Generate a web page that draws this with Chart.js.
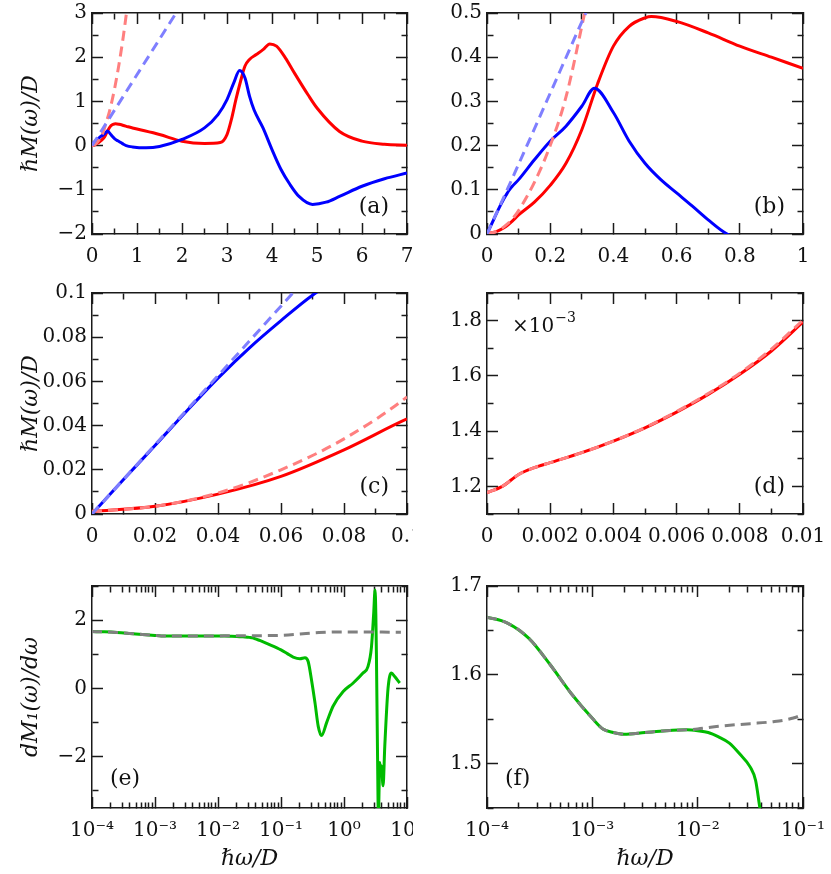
<!DOCTYPE html>
<html>
<head>
<meta charset="utf-8">
<script src="https://cdn.jsdelivr.net/npm/chart.js"></script>
<style>
  body { margin: 0; background: #fff; }
  #wrap { position: relative; width: 831px; height: 874px; overflow: hidden; }
  canvas { position: absolute; }
</style>
</head>
<body>
<div id="wrap">
  <canvas id="pa" width="413" height="280" style="left:0;top:0"></canvas>
  <canvas id="pb" width="418" height="280" style="left:413px;top:0"></canvas>
  <canvas id="pc" width="413" height="280" style="left:0;top:280px"></canvas>
  <canvas id="pd" width="418" height="280" style="left:413px;top:280px"></canvas>
  <canvas id="pe" width="413" height="314" style="left:0;top:560px"></canvas>
  <canvas id="pf" width="418" height="314" style="left:413px;top:560px"></canvas>
</div>
<script>
// ---- data ----
// red / blue curves, shared by panels (a), (b), (c)
const redX = [0, 0.02, 0.04, 0.06, 0.08, 0.1, 0.15, 0.2, 0.25, 0.3, 0.35, 0.4, 0.45, 0.5, 0.52, 0.6, 0.7, 0.8, 0.9, 1.0,
  1.5, 2, 2.5, 2.85, 3, 3.1, 3.2, 3.3, 3.4, 3.5, 3.65, 3.8, 3.95, 4.1, 4.3, 4.5, 4.8, 5, 5.5, 6, 6.5, 7];
const redY = [0.0012, 0.0035, 0.009, 0.017, 0.029, 0.043, 0.072, 0.11, 0.16, 0.236, 0.34, 0.425, 0.47, 0.489, 0.492, 0.481, 0.455, 0.425, 0.40, 0.375,
  0.25, 0.1, 0.05, 0.07, 0.25, 0.6, 1.05, 1.45, 1.8, 1.95, 2.06, 2.17, 2.3, 2.25, 1.98, 1.64, 1.15, 0.85, 0.32, 0.1, 0.03, 0.01];
const redDashX = [0, 0.02, 0.04, 0.06, 0.08, 0.1, 0.15, 0.2, 0.25, 0.3, 0.4, 0.5, 0.6, 0.7, 0.8];
const redDashY = [0.0012, 0.0035, 0.0095, 0.02, 0.034, 0.053, 0.117, 0.2, 0.31, 0.47, 0.82, 1.28, 1.84, 2.5, 3.27];
const blueX = [0, 0.01, 0.02, 0.03, 0.04, 0.05, 0.06, 0.07, 0.08, 0.1, 0.15, 0.2, 0.25, 0.3, 0.34, 0.4, 0.45, 0.5, 0.55, 0.6, 0.65, 0.7, 0.76,
  0.9, 1.2, 1.5, 2, 2.5, 2.8, 3, 3.15, 3.28, 3.4, 3.5, 3.6, 3.8, 4, 4.2, 4.4, 4.6, 4.9, 5.2, 5.5, 6, 6.5, 7];
const blueY = [0, 0.0156, 0.031, 0.0465, 0.0615, 0.0752, 0.0875, 0.099, 0.108, 0.123, 0.168, 0.21, 0.244, 0.289, 0.33, 0.275, 0.21, 0.16, 0.123, 0.093, 0.063, 0.032, 0,
  -0.03, -0.05, -0.02, 0.14, 0.4, 0.7, 1.04, 1.42, 1.7, 1.53, 1.12, 0.81, 0.4, -0.09, -0.54, -0.88, -1.15, -1.33, -1.28, -1.15, -0.92, -0.75, -0.62];
const blueDashX = [0, 0.065, 0.32, 1.9];
const blueDashY = [0, 0.102, 0.512, 3.05];

// panel (d), y in units of 1e-3
const dX = [0, 0.0005, 0.001, 0.0015, 0.002, 0.003, 0.004, 0.005, 0.006, 0.007, 0.008, 0.009, 0.01];
const dRedY = [1.177, 1.201, 1.243, 1.268, 1.286, 1.322, 1.364, 1.412, 1.469, 1.533, 1.606, 1.69, 1.795];
const dRedDashY = [1.177, 1.201, 1.243, 1.268, 1.286, 1.322, 1.364, 1.413, 1.471, 1.536, 1.61, 1.697, 1.802];

// panels (e), (f): dM1/dw
const greenX = [1e-4, 1.58e-4, 2.5e-4, 4e-4, 6.3e-4, 1e-3, 1.26e-3, 1.58e-3, 2e-3, 3.16e-3, 5e-3, 7.9e-3, 0.01, 0.0126, 0.0158,
  0.02, 0.025, 0.0316, 0.0355, 0.039, 0.047, 0.063, 0.1, 0.126, 0.156, 0.2, 0.24, 0.27, 0.305, 0.347, 0.39, 0.44, 0.53, 0.67, 0.97,
  1.4, 2.0, 2.4, 2.73, 2.96, 3.11, 3.2, 3.27, 3.4, 3.52, 3.6, 3.69, 3.8, 3.93, 4.17, 4.44, 5.0, 5.66, 6.38, 7.67];
const greenY = [1.665, 1.658, 1.641, 1.611, 1.579, 1.551, 1.539, 1.535, 1.533, 1.535, 1.537, 1.538, 1.537, 1.535, 1.53,
  1.523, 1.511, 1.496, 1.481, 1.45, 1.40, 1.3, 1.13, 1.02, 0.92, 0.87, 0.9, 0.79, 0.25, -0.43, -1.11, -1.38, -1.0, -0.52, -0.09,
  0.16, 0.45, 0.64, 1.22, 2.2, 2.88, 2.2, 1.0, -1.8, -3.8, -3.0, -2.17, -2.4, -2.27, -2.85, -1.69, 0.0, 0.45, 0.35, 0.16];
const greyX = [1e-4, 1.58e-4, 2.5e-4, 4e-4, 6.3e-4, 1e-3, 1.26e-3, 1.58e-3, 2e-3, 3.16e-3, 5e-3, 7.9e-3, 0.01, 0.0158, 0.0316,
  0.05, 0.079, 0.1, 0.16, 0.25, 0.4, 0.63, 1, 2, 4, 8];
const greyY = [1.665, 1.658, 1.641, 1.611, 1.579, 1.551, 1.539, 1.535, 1.533, 1.535, 1.537, 1.538, 1.539, 1.542, 1.545,
  1.547, 1.551, 1.556, 1.58, 1.61, 1.635, 1.65, 1.655, 1.655, 1.65, 1.645];

// tick values / labels
const aXTicks = [0, 1, 2, 3, 4, 5, 6, 7];
const aYTicks = [-2, -1, 0, 1, 2, 3];
const bXTicks = [0, 0.2, 0.4, 0.6, 0.8, 1];
const bYTicks = [0, 0.1, 0.2, 0.3, 0.4, 0.5];
const cXTicks = [0, 0.02, 0.04, 0.06, 0.08, 0.1];
const cYTicks = [0, 0.02, 0.04, 0.06, 0.08, 0.1];
const dXTicks = [0, 0.002, 0.004, 0.006, 0.008, 0.01];
const dYTicks = [1.2, 1.4, 1.6, 1.8];
const eXTicks = [1e-4, 1e-3, 1e-2, 1e-1, 1, 10];
const eXLabels = ['10⁻⁴', '10⁻³', '10⁻²', '10⁻¹', '10⁰', '10¹'];
const eYTicks = [-2, 0, 2];
const fXTicks = [1e-4, 1e-3, 1e-2, 1e-1];
const fXLabels = ['10⁻⁴', '10⁻³', '10⁻²', '10⁻¹'];
const fYTicks = [1.5, 1.6, 1.7];

// ---- drawing ----
const FONT = 'DejaVu Serif';
const RED = '#ff0000', BLUE = '#0000ff', PINK = '#ff7f7f', LBLUE = '#7f7fff', GREEN = '#00bb00', GREY = '#808080';
const INK = '#111', FRAME = '#1a1a1a';

function pts(xs, ys) { return xs.map((x, i) => ({x: x, y: ys[i]})); }
function solid(xs, ys, color) {
  return {data: pts(xs, ys), borderColor: color, borderWidth: 3, pointRadius: 0,
    cubicInterpolationMode: 'monotone', fill: false};
}
function dashed(xs, ys, color) {
  const d = solid(xs, ys, color);
  d.borderDash = [10, 6];
  return d;
}
function fmt(v) { return String(+v.toFixed(6)).replace('-', '−'); }

function minorTicks(major, min, max, log) {
  const out = [];
  if (log) {
    for (let d = Math.floor(Math.log10(min)); d <= Math.ceil(Math.log10(max)); d++) {
      for (let k = 2; k <= 9; k++) {
        const v = k * Math.pow(10, d);
        if (v > min && v < max) out.push(v);
      }
    }
  } else {
    const step = major[1] - major[0];
    for (let k = -20; k <= 40; k++) {
      const v = major[0] + (k + 0.5) * step;
      if (v >= min - 1e-9 && v <= max + 1e-9) out.push(v);
    }
  }
  return out;
}

// one axis; ticks point into the plot (negative tickLength), minor ticks shortened with a dash
function axis(o, pos, main) {
  const horiz = pos === 'bottom' || pos === 'top';
  const inner = pos === 'top' || pos === 'left';   // tick line starts inside the plot
  return {
    type: o.log ? 'logarithmic' : 'linear',
    position: pos,
    min: o.min, max: o.max,
    bounds: 'data',
    display: true,
    grid: {
      display: true, drawOnChartArea: false, drawTicks: true,
      tickLength: -11, tickWidth: 1.5, tickColor: FRAME,
      tickBorderDash: c => (c.tick && c.tick.minor) ? [6, 100] : [],
      tickBorderDashOffset: c => (c.tick && c.tick.minor && inner) ? 101.5 : 0
    },
    border: {display: true, width: 1.5, color: FRAME},
    ticks: {
      display: main,
      autoSkip: false, maxRotation: 0, minRotation: 0,
      padding: horiz ? 22 : 16,
      color: INK,
      font: {family: FONT, size: 20},
      callback: (v, i, t) => {
        if (t[i] && t[i].minor) return '';
        return o.labels ? o.labels[o.ticks.indexOf(v)] : fmt(v);
      }
    },
    title: (main && o.title) ? {
      display: true, text: o.title, color: INK,
      font: {family: FONT, size: 22, style: 'italic'},
      padding: horiz ? {top: 0, bottom: 2} : {top: 18, bottom: 0}
    } : {display: false},
    afterBuildTicks: s => {
      const list = o.ticks.map(v => ({value: v}));
      minorTicks(o.ticks, o.min, o.max, o.log).forEach(v => list.push({value: v, minor: true}));
      list.sort((p, q) => p.value - q.value);
      s.ticks = list;
    },
    afterFit: s => {
      const size = main ? o.size : 0;
      if (horiz) s.height = size; else s.width = size;
      s.paddingLeft = 0; s.paddingRight = 0; s.paddingTop = 0; s.paddingBottom = 0;
    }
  };
}

// panel letters and the x10^-3 note
const panels = {};
const notePlugin = {
  id: 'panelNote',
  afterDraw(chart) {
    const p = panels[chart.canvas.id];
    const ctx = chart.ctx, a = chart.chartArea;
    ctx.save();
    ctx.fillStyle = INK;
    ctx.font = '22px "' + FONT + '"';
    ctx.textBaseline = 'middle';
    if (p.corner === 'right') {
      ctx.textAlign = 'right';
      ctx.fillText(p.label, a.right - 18, a.bottom - 27);
    } else {
      ctx.textAlign = 'left';
      ctx.fillText(p.label, a.left + 18, a.bottom - 29);
    }
    if (p.note) {
      ctx.textAlign = 'left';
      ctx.font = '20px "' + FONT + '"';
      ctx.fillText('×10', a.left + 25, a.top + 34);
      const tw = ctx.measureText('×10').width;
      ctx.font = '14px "' + FONT + '"';
      ctx.fillText('−3', a.left + 25 + tw + 1, a.top + 25);
    }
    ctx.restore();
  }
};

function makeChart(id, datasets, xo, yo, padTop, padRight, extra) {
  panels[id] = extra;
  new Chart(document.getElementById(id), {
    type: 'line',
    data: {datasets: datasets},
    options: {
      responsive: false,
      animation: false,
      devicePixelRatio: 1,
      events: [],
      layout: {padding: {top: padTop, right: padRight, bottom: 0, left: 0}},
      plugins: {legend: {display: false}, tooltip: {enabled: false}},
      scales: {
        x: axis(xo, 'bottom', true),
        x2: axis(xo, 'top', false),
        y: axis(yo, 'left', true),
        y2: axis(yo, 'right', false)
      }
    },
    plugins: [notePlugin]
  });
}

const MTITLE = 'ℏM(ω)/D';
// first dataset is drawn on top in Chart.js, so dashed lines come first
const redBlue = () => [
  dashed(blueDashX, blueDashY, LBLUE), dashed(redDashX, redDashY, PINK),
  solid(blueX, blueY, BLUE), solid(redX, redY, RED)
];

makeChart('pa', redBlue(),
  {min: 0, max: 7, ticks: aXTicks, size: 46},
  {min: -2, max: 3, ticks: aYTicks, size: 92, title: MTITLE}, 13, 6, {label: '(a)', corner: 'right'});

makeChart('pb', redBlue(),
  {min: 0, max: 1, ticks: bXTicks, size: 46},
  {min: 0, max: 0.5, ticks: bYTicks, size: 74}, 13, 28, {label: '(b)', corner: 'right'});

makeChart('pc', redBlue(),
  {min: 0, max: 0.1, ticks: cXTicks, size: 46},
  {min: 0, max: 0.1, ticks: cYTicks, size: 92, title: MTITLE}, 13, 6, {label: '(c)', corner: 'right'});

makeChart('pd', [dashed(dX, dRedDashY, PINK), solid(dX, dRedY, RED)],
  {min: 0, max: 0.01, ticks: dXTicks, size: 46},
  {min: 1.1, max: 1.9, ticks: dYTicks, size: 74}, 13, 28, {label: '(d)', corner: 'right', note: true});

makeChart('pe', [dashed(greyX, greyY, GREY), solid(greenX, greenY, GREEN)],
  {min: 1e-4, max: 10, log: true, ticks: eXTicks, labels: eXLabels, size: 66, title: 'ℏω/D'},
  {min: -3.5, max: 3, ticks: eYTicks, size: 92, title: 'dM₁(ω)/dω'}, 26, 6, {label: '(e)', corner: 'left'});

makeChart('pf', [dashed(greyX, greyY, GREY), solid(greenX, greenY, GREEN)],
  {min: 1e-4, max: 0.1, log: true, ticks: fXTicks, labels: fXLabels, size: 66, title: 'ℏω/D'},
  {min: 1.45, max: 1.7, ticks: fYTicks, size: 74}, 26, 28, {label: '(f)', corner: 'left'});
</script>
</body>
</html>
